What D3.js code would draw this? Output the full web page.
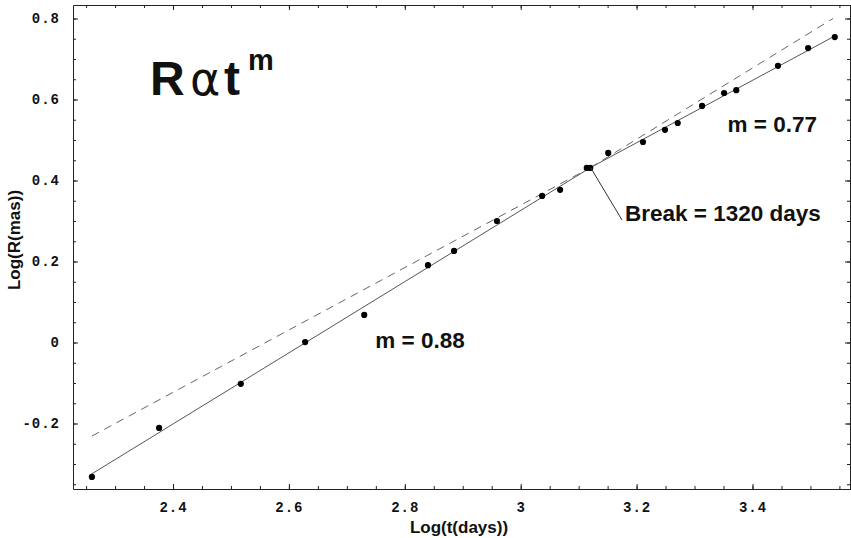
<!DOCTYPE html>
<html>
<head>
<meta charset="utf-8">
<script src="https://cdn.jsdelivr.net/npm/d3@7/dist/d3.min.js"></script>
<style>
  html, body { margin: 0; padding: 0; background: #fff; }
  svg { display: block; }
</style>
</head>
<body>
<script>
// ---- Data ----
const logT = [2.260, 2.376, 2.517, 2.628, 2.730, 2.840, 2.885, 2.959, 3.037, 3.068, 3.114,
              3.120, 3.151, 3.211, 3.249, 3.271, 3.313, 3.351, 3.372, 3.444, 3.496, 3.542];
const logR = [-0.332, -0.211, -0.102, 0.001, 0.068, 0.191, 0.226, 0.300, 0.362, 0.377, 0.431,
              0.431, 0.468, 0.495, 0.525, 0.542, 0.584, 0.616, 0.623, 0.683, 0.727, 0.754];

// fitted broken power law (solid) and the two extrapolations (dashed)
const solidT = [2.258, 3.1206, 3.545];
const solidR = [-0.326, 0.432, 0.759];
const dashLowT = [2.260, 3.1206];   // m = 0.77 line extended back
const dashLowR = [-0.231, 0.432];
const dashHighT = [3.1206, 3.539];  // m = 0.88 line extended forward
const dashHighR = [0.432, 0.800];

const xTickValues = [2.4, 2.6, 2.8, 3.0, 3.2, 3.4];
const xTickLabels = ["2.4", "2.6", "2.8", "3", "3.2", "3.4"];
const yTickValues = [-0.2, 0, 0.2, 0.4, 0.6, 0.8];
const yTickLabels = ["-0.2", "0", "0.2", "0.4", "0.6", "0.8"];
const xMinor = d3.range(2.25, 3.5701, 0.05).map(v => +v.toFixed(2));
const yMinor = d3.range(-0.35, 0.8301, 0.05).map(v => +v.toFixed(2));

const breakPoint = [3.1206, 0.432];
const breakLabel = "Break = 1320 days";
const lowLabel = "m = 0.88";
const highLabel = "m = 0.77";

// ---- Layout ----
const W = 851, H = 538;
const mLeft = 73, mRight = 851, mTop = 5, mBottom = 489;

const x = d3.scaleLinear().domain([2.2274, 3.5700]).range([mLeft, mRight]);
const y = d3.scaleLinear().domain([-0.3617, 0.8333]).range([mBottom, mTop]);

const svg = d3.select("body").append("svg")
  .attr("width", W).attr("height", H)
  .attr("viewBox", `0 0 ${W} ${H}`);

const frameColor = "#222";
const monoFont = "'Liberation Mono', 'DejaVu Sans Mono', monospace";

function styleAxis(g) {
  g.selectAll("path.domain").attr("stroke", frameColor).attr("stroke-width", 1);
  g.selectAll(".tick line").attr("stroke", frameColor).attr("stroke-width", 1);
}

// bottom axis (major with labels)
const gB = svg.append("g").attr("transform", `translate(0,${mBottom})`)
  .call(d3.axisBottom(x).tickValues(xTickValues)
    .tickFormat((d, i) => xTickLabels[i]).tickSizeInner(-5).tickSizeOuter(0).tickPadding(13));
styleAxis(gB);
gB.selectAll(".tick text")
  .attr("font-family", monoFont)
  .attr("font-weight", "bold").attr("font-size", 14)
  .attr("letter-spacing", "1px").attr("fill", "#111");
svg.append("g").attr("transform", `translate(0,${mBottom})`)
  .call(d3.axisBottom(x).tickValues(xMinor).tickFormat("").tickSizeInner(-3).tickSizeOuter(0))
  .call(g => { g.select("path.domain").remove(); styleAxis(g); });

// top axis
const gT = svg.append("g").attr("transform", `translate(0,${mTop})`)
  .call(d3.axisTop(x).tickValues(xTickValues).tickFormat("").tickSizeInner(-5).tickSizeOuter(0));
styleAxis(gT);
svg.append("g").attr("transform", `translate(0,${mTop})`)
  .call(d3.axisTop(x).tickValues(xMinor).tickFormat("").tickSizeInner(-3).tickSizeOuter(0))
  .call(g => { g.select("path.domain").remove(); styleAxis(g); });

// left axis
const gL = svg.append("g").attr("transform", `translate(${mLeft},0)`)
  .call(d3.axisLeft(y).tickValues(yTickValues)
    .tickFormat((d, i) => yTickLabels[i]).tickSizeInner(-5).tickSizeOuter(0).tickPadding(13));
styleAxis(gL);
gL.selectAll(".tick text")
  .attr("font-family", monoFont)
  .attr("font-weight", "bold").attr("font-size", 14)
  .attr("letter-spacing", "1px").attr("fill", "#111");
svg.append("g").attr("transform", `translate(${mLeft},0)`)
  .call(d3.axisLeft(y).tickValues(yMinor).tickFormat("").tickSizeInner(-3).tickSizeOuter(0))
  .call(g => { g.select("path.domain").remove(); styleAxis(g); });

// right axis
const gR = svg.append("g").attr("transform", `translate(${mRight - 1},0)`)
  .call(d3.axisRight(y).tickValues(yTickValues).tickFormat("").tickSizeInner(-5).tickSizeOuter(0));
styleAxis(gR);
svg.append("g").attr("transform", `translate(${mRight - 1},0)`)
  .call(d3.axisRight(y).tickValues(yMinor).tickFormat("").tickSizeInner(-3).tickSizeOuter(0))
  .call(g => { g.select("path.domain").remove(); styleAxis(g); });

// lines
const line = d3.line().x(d => x(d[0])).y(d => y(d[1]));
svg.append("path")
  .attr("d", line(solidT.map((t, i) => [t, solidR[i]])))
  .attr("fill", "none").attr("stroke", "#555").attr("stroke-width", 1);
svg.append("path")
  .attr("d", line(dashLowT.map((t, i) => [t, dashLowR[i]])))
  .attr("fill", "none").attr("stroke", "#666").attr("stroke-width", 1)
  .attr("stroke-dasharray", "8,6");
svg.append("path")
  .attr("d", line(dashHighT.map((t, i) => [t, dashHighR[i]])))
  .attr("fill", "none").attr("stroke", "#666").attr("stroke-width", 1)
  .attr("stroke-dasharray", "8,6");

// points
svg.append("g").selectAll("circle")
  .data(logT.map((t, i) => [t, logR[i]]))
  .join("circle")
  .attr("cx", d => x(d[0])).attr("cy", d => y(d[1]))
  .attr("r", 3.1).attr("fill", "#000");

// leader line for break
svg.append("line")
  .attr("x1", x(breakPoint[0])).attr("y1", y(breakPoint[1]))
  .attr("x2", x(3.1748)).attr("y2", y(0.3025))
  .attr("stroke", "#333").attr("stroke-width", 1);

const annFont = "'Liberation Sans', Arial, sans-serif";
function ann(txt, xv, yv) {
  svg.append("text").attr("x", x(xv)).attr("y", y(yv))
    .attr("font-family", annFont).attr("font-weight", "bold")
    .attr("font-size", 22.5).attr("fill", "#111").text(txt);
}
ann(breakLabel, 3.1800, 0.2988);
ann(lowLabel, 2.7491, -0.0136);
ann(highLabel, 3.3570, 0.5198);

// title R α t^m
const title = svg.append("text").attr("fill", "#111");
title.append("tspan").attr("x", 150).attr("y", 95)
  .attr("font-family", annFont).attr("font-weight", "bold").attr("font-size", 48).text("R");
title.append("tspan").attr("x", 190).attr("y", 95)
  .attr("font-family", "'DejaVu Sans', sans-serif").attr("font-weight", "normal").attr("font-size", 46).text("α");
title.append("tspan").attr("x", 224).attr("y", 95)
  .attr("font-family", annFont).attr("font-weight", "bold").attr("font-size", 48).text("t");
title.append("tspan").attr("x", 248).attr("y", 70)
  .attr("font-family", annFont).attr("font-weight", "bold").attr("font-size", 29).text("m");

// axis titles
svg.append("text")
  .attr("x", 459).attr("y", 533).attr("text-anchor", "middle")
  .attr("font-family", annFont).attr("font-weight", "bold").attr("font-size", 17)
  .attr("fill", "#111").text("Log(t(days))");
svg.append("text")
  .attr("transform", "translate(20,240) rotate(-90)").attr("text-anchor", "middle")
  .attr("font-family", annFont).attr("font-weight", "bold").attr("font-size", 17)
  .attr("fill", "#111").text("Log(R(mas))");
</script>
</body>
</html>
